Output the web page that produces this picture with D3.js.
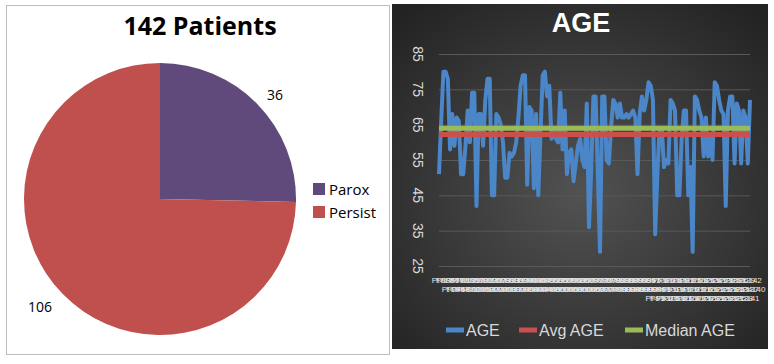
<!DOCTYPE html>
<html>
<head>
<meta charset="utf-8">
<script src="https://cdn.jsdelivr.net/npm/d3@7"></script>
<style>
  html, body { margin: 0; padding: 0; background: #fff; }
  svg { display: block; }
</style>
</head>
<body>
<svg id="mount" width="774" height="364"></svg>
<script>
// Pie data
var pieLabels = ["Parox", "Persist"];
var pieValues = [36, 106];
var pieColors = ["#604A7B", "#C0504D"];

// Line chart data (one age per patient)
var ages = [
  51, 66, 80, 80, 78, 58, 68, 59, 67, 66, 51, 51, 59, 69, 60, 74, 74, 42, 68, 68,
  59, 72, 78, 78, 45, 45, 68, 67, 65, 60, 50, 50, 57, 56, 57, 60, 67, 76, 79, 79,
  48, 70, 69, 47, 68, 45, 62, 79, 80, 73, 76, 61, 64, 61, 60, 74, 58, 69, 51, 57,
  58, 49, 54, 59, 61, 55, 53, 71, 36, 52, 73, 73, 51, 29, 73, 73, 55, 54, 64, 72,
  71, 67, 71, 67, 67, 68, 67, 68, 69, 67, 51, 68, 73, 69, 72, 77, 76, 72, 34, 51,
  64, 64, 53, 55, 54, 72, 71, 69, 45, 45, 61, 69, 69, 45, 53, 29, 73, 72, 69, 67,
  56, 67, 56, 61, 55, 77, 76, 72, 69, 68, 42, 69, 73, 73, 54, 71, 69, 54, 69, 67,
  54, 72
];
var avgAge = 62.2;
var medianAge = 64;
var yTicks = [25, 35, 45, 55, 65, 75, 85];
var xLabels = d3.range(1, ages.length + 1).map(function(i) {
  return "Pt-" + i;
});
var legendNames = ["AGE", "Avg AGE", "Median AGE"];
var lineColors = ["#4A86C8", "#C9504C", "#9BBB59"];

var svg = d3.select("#mount");

// ---------- Left panel: pie ----------
svg
  .append("rect")
  .attr("x", 6.5)
  .attr("y", 5.5)
  .attr("width", 383)
  .attr("height", 349)
  .attr("fill", "#fff")
  .attr("stroke", "#bdbdbd");

svg
  .append("text")
  .attr("x", 200)
  .attr("y", 35)
  .attr("text-anchor", "middle")
  .style("font-family", "'Open Sans', sans-serif")
  .style("font-weight", "bold")
  .style("font-size", "25px")
  .attr("fill", "#000")
  .text("142 Patients");

var pie = d3.pie().sort(null)(pieValues);
var arc = d3.arc().innerRadius(0).outerRadius(136);

var pieG = svg.append("g").attr("transform", "translate(160,199)");
pieG
  .selectAll("path")
  .data(pie)
  .enter()
  .append("path")
  .attr("d", arc)
  .attr("fill", function(d, i) {
    return pieColors[i];
  });

// value labels sit just outside the slices
var labelPos = [[115, -99], [-120, 113]];
pieG
  .selectAll("text.val")
  .data(pie)
  .enter()
  .append("text")
  .attr("class", "val")
  .attr("x", function(d, i) {
    return labelPos[i][0];
  })
  .attr("y", function(d, i) {
    return labelPos[i][1];
  })
  .attr("text-anchor", "middle")
  .style("font-family", "'Open Sans', sans-serif")
  .style("font-size", "14px")
  .attr("fill", "#000")
  .text(function(d) {
    return d.data;
  });

var pieLegend = svg
  .selectAll("g.pleg")
  .data(pieLabels)
  .enter()
  .append("g")
  .attr("class", "pleg")
  .attr("transform", function(d, i) {
    return "translate(313," + (183 + i * 23) + ")";
  });
pieLegend
  .append("rect")
  .attr("width", 12)
  .attr("height", 12)
  .attr("fill", function(d, i) {
    return pieColors[i];
  });
pieLegend
  .append("text")
  .attr("x", 16)
  .attr("y", 12)
  .style("font-family", "'Open Sans', sans-serif")
  .style("font-size", "15px")
  .attr("fill", "#000")
  .text(function(d) {
    return d;
  });

// ---------- Right panel: line chart ----------
var defs = svg.append("defs");
var grad = defs
  .append("radialGradient")
  .attr("id", "bg")
  .attr("cx", "50%")
  .attr("cy", "55%")
  .attr("r", "70%");
grad.append("stop").attr("offset", "0%").attr("stop-color", "#525252");
grad.append("stop").attr("offset", "100%").attr("stop-color", "#232323");

svg
  .append("rect")
  .attr("x", 392)
  .attr("y", 4)
  .attr("width", 376)
  .attr("height", 345)
  .attr("fill", "url(#bg)");

svg
  .append("text")
  .attr("x", 581)
  .attr("y", 32)
  .attr("text-anchor", "middle")
  .style("font-family", "'Liberation Sans', Arial, sans-serif")
  .style("font-weight", "bold")
  .style("font-size", "27px")
  .attr("fill", "#fff")
  .text("AGE");

var x = d3
  .scaleLinear()
  .domain([0, ages.length - 1])
  .range([439, 750]);

var y = d3
  .scaleLinear()
  .domain([25, 85])
  .range([266, 54]);

// gridlines
svg
  .append("g")
  .selectAll("line")
  .data(yTicks)
  .enter()
  .append("line")
  .attr("x1", 439)
  .attr("x2", 750)
  .attr("y1", function(d) {
    return y(d) + 0.5;
  })
  .attr("y2", function(d) {
    return y(d) + 0.5;
  })
  .attr("stroke", "#595959")
  .attr("stroke-width", 1);

// rotated y tick labels
svg
  .append("g")
  .selectAll("text")
  .data(yTicks)
  .enter()
  .append("text")
  .attr("transform", function(d) {
    return "translate(413," + y(d) + ") rotate(90)";
  })
  .attr("text-anchor", "middle")
  .style("font-family", "'Liberation Sans', Arial, sans-serif")
  .style("font-size", "14px")
  .attr("fill", "#d9d9d9")
  .text(function(d) {
    return d;
  });

// x category labels: far too many for the width, so they pile up into light bands
svg
  .append("g")
  .selectAll("text")
  .data(xLabels)
  .enter()
  .append("text")
  .attr("x", function(d, i) {
    var row = i < 97 ? i % 2 : i % 3;
    return x(i) + (row === 1 ? 8 : 0);
  })
  .attr("y", function(d, i) {
    var row = i < 97 ? i % 2 : i % 3;
    return 283 + row * 9;
  })
  .attr("text-anchor", "middle")
  .style("font-family", "'Liberation Sans', Arial, sans-serif")
  .style("font-size", "8px")
  .attr("fill", "#e6e6e6")
  .text(function(d) {
    return d;
  });

var line = d3
  .line()
  .x(function(d, i) {
    return x(i);
  })
  .y(function(d) {
    return y(d);
  });

svg
  .append("path")
  .datum(ages)
  .attr("fill", "none")
  .attr("stroke", lineColors[0])
  .attr("stroke-width", 4)
  .attr("stroke-linejoin", "round")
  .attr("d", line);

[avgAge, medianAge].forEach(function(v, k) {
  svg
    .append("path")
    .datum(ages.map(function() { return v; }))
    .attr("fill", "none")
    .attr("stroke", lineColors[k + 1])
    .attr("stroke-width", 5)
    .attr("d", line);
});

// legend
var legX = [446, 519, 625];
var leg = svg
  .selectAll("g.lleg")
  .data(legendNames)
  .enter()
  .append("g")
  .attr("class", "lleg")
  .attr("transform", function(d, i) {
    return "translate(" + legX[i] + ",330)";
  });
leg
  .append("rect")
  .attr("y", -2.5)
  .attr("width", 18)
  .attr("height", 5)
  .attr("fill", function(d, i) {
    return lineColors[i];
  });
leg
  .append("text")
  .attr("x", 20)
  .attr("y", 6)
  .style("font-family", "'Liberation Sans', Arial, sans-serif")
  .style("font-size", "16px")
  .attr("fill", "#d9d9d9")
  .text(function(d) {
    return d;
  });
</script>
</body>
</html>
